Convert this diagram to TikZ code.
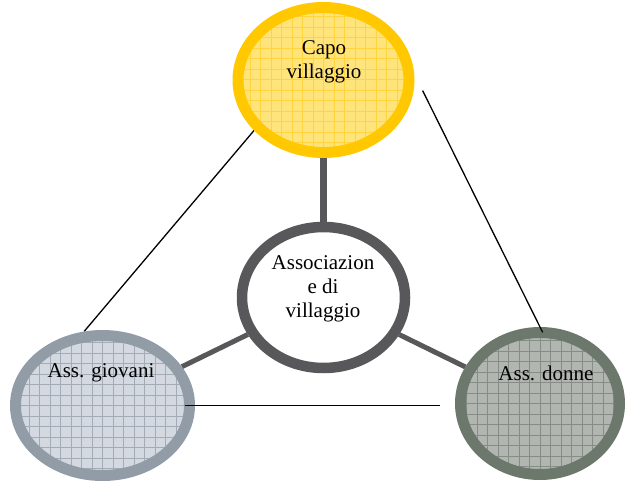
\documentclass[tikz,border=0pt]{standalone}
\usepackage{fontspec}
\setmainfont{Liberation Serif}
\usetikzlibrary{shapes.geometric,backgrounds}
\definecolor{capoRing}{HTML}{FFC800}
\definecolor{capoFill}{HTML}{FFE47C}
\definecolor{capoGrid}{HTML}{FFD43E}
\definecolor{giovRing}{HTML}{929CA7}
\definecolor{giovFill}{HTML}{D4D9E1}
\definecolor{giovGrid}{HTML}{A3ABB6}
\definecolor{donnRing}{HTML}{6C786C}
\definecolor{donnFill}{HTML}{B2B6B0}
\definecolor{donnGrid}{HTML}{868D86}
\definecolor{hubRing}{HTML}{58585A}
\tikzset{
  x=1pt, y=-1pt,
  bubble/.style={ellipse, inner sep=0pt, line width=11pt},
  gridded/.style 2 args={fill=#1, path picture={
      \draw[#2, line width=1pt]
        ([shift={(-3pt,-3pt)}]path picture bounding box.south west)
        grid[step=10.5pt] (path picture bounding box.north east);}},
  label text/.style={align=center, font=\fontsize{21}{24}\selectfont, inner sep=0pt},
  spoke/.style={hubRing, line width=6pt},
  tie/.style={black, line width=1.3pt}
}
\begin{document}
\begin{tikzpicture}
\useasboundingbox (0,0) rectangle (626,481);

% four bubbles
\node[bubble, draw=capoRing, gridded={capoFill}{capoGrid},
      minimum width=171pt, minimum height=145pt] (capo) at (323.5,80) {};
\node[bubble, draw=hubRing, fill=white, line width=10.5pt,
      minimum width=163pt, minimum height=141pt] (hub) at (323.5,297.5) {};
\node[bubble, draw=giovRing, gridded={giovFill}{giovGrid},
      minimum width=174pt, minimum height=140pt] (giov) at (102.5,405.5) {};
\node[bubble, draw=donnRing, gridded={donnFill}{donnGrid},
      minimum width=159pt, minimum height=142pt] (donne) at (540,403.5) {};

% labels
\node[label text] (capoT) at (324,62) {Capo\\villaggio};
\node[label text] (hubT) at (323,289) {Associazion\\e di\\villaggio};
\node[label text] (giovT) at (101,373) {Ass. giovani};
\node[label text] (donneT) at (546,373) {Ass. donne};

% thick spokes from the hub, behind the rings
\begin{scope}[on background layer]
  \draw[spoke, line width=6.5pt] (capo.south) -- (hub.north);
  \draw[spoke, line width=5pt] (hub) -- (giov);
  \draw[spoke, line width=5pt] (hub) -- (donne);
  \draw[tie] (capo.216) -- (giov.104);
\end{scope}

% thin ties between the outer bubbles
\draw[tie, shorten <=19pt, shorten >=-6pt] (capo.4) -- (donne.90);
\draw[tie, shorten <=-10.5pt, shorten >=15pt] (giov.east) -- (giov.east -| donne.west);
\end{tikzpicture}
\end{document}
